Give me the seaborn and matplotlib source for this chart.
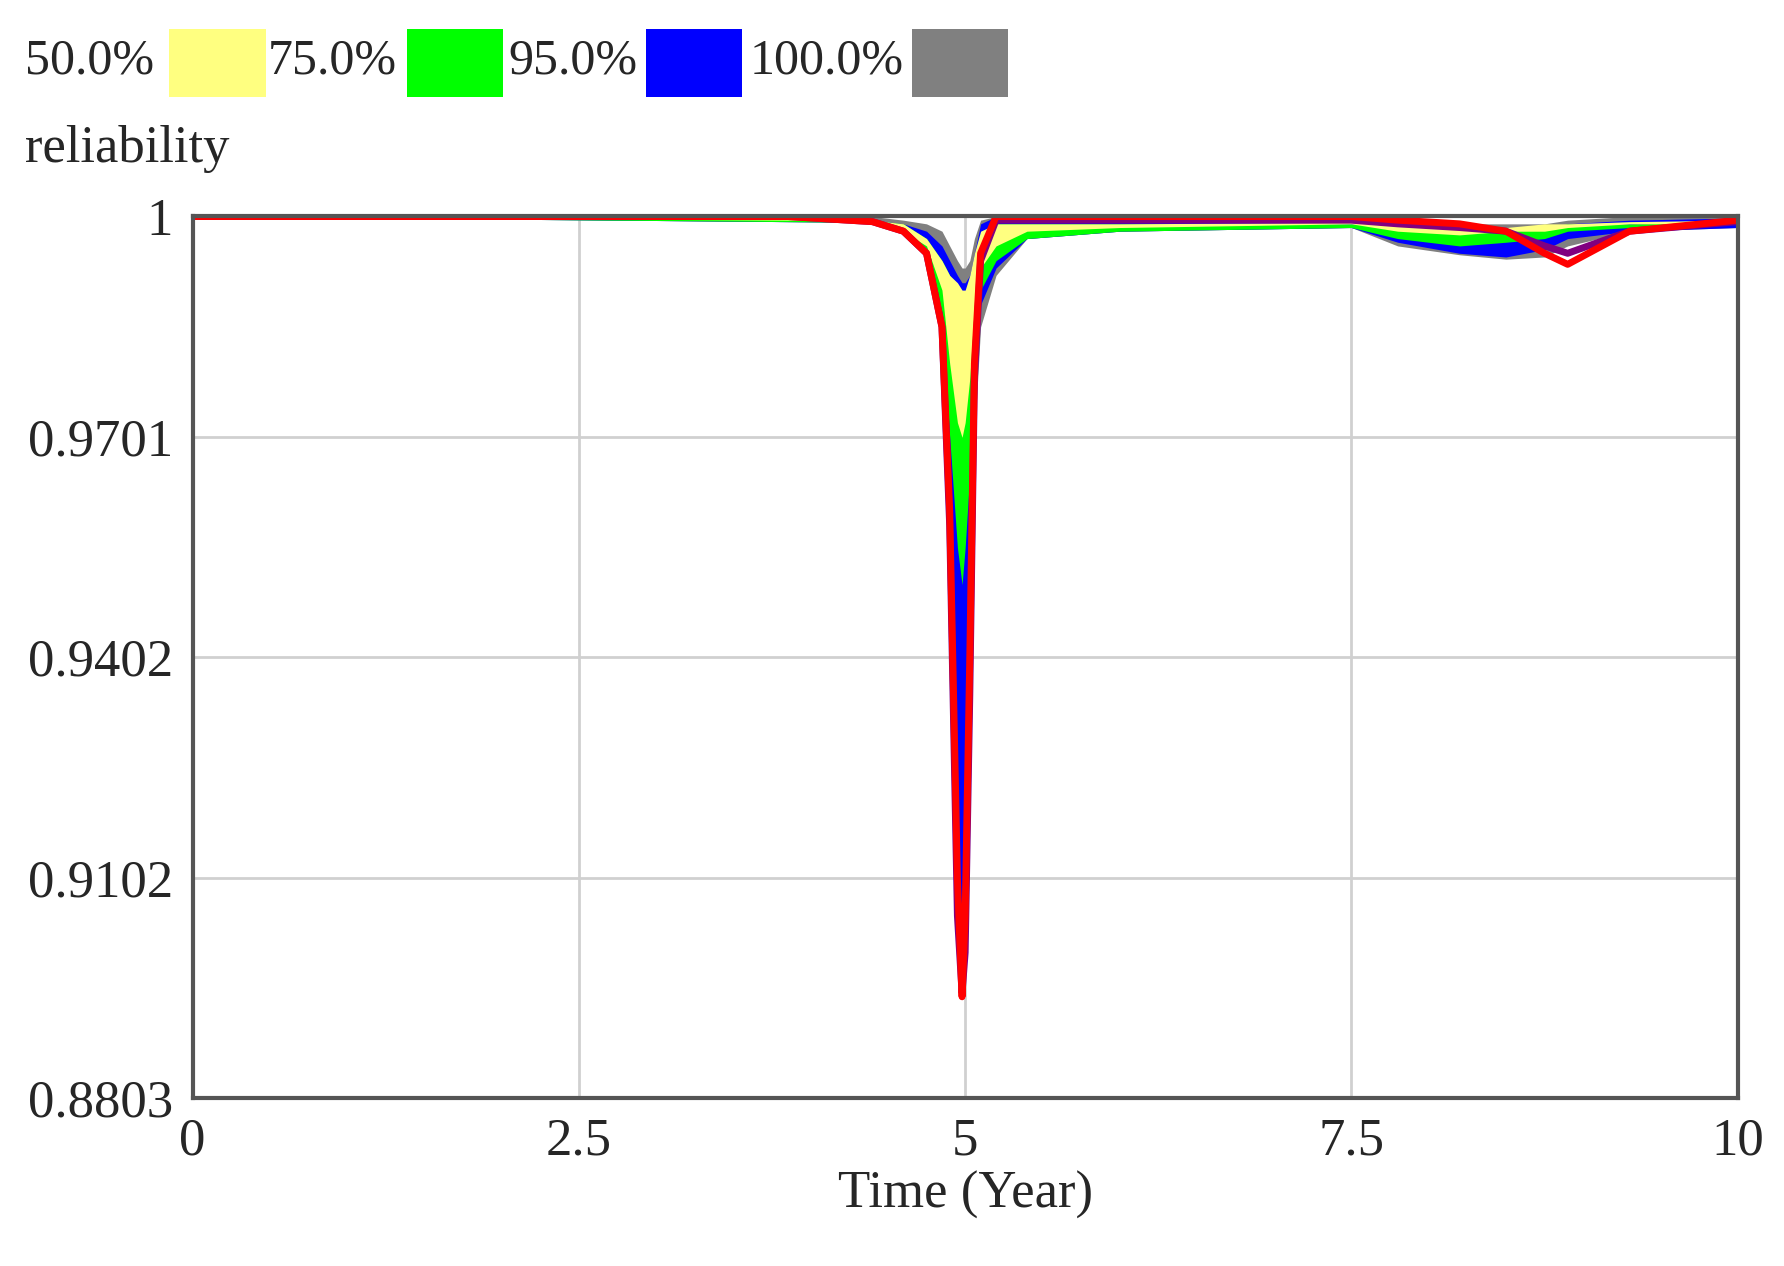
import matplotlib
matplotlib.use("Agg")
import matplotlib.pyplot as plt
import numpy as np
import seaborn as sns
from matplotlib.patches import Rectangle

# time grid (Year) and sensitivity envelopes
t = [0, 3.85, 4.4, 4.6, 4.75, 4.85, 4.9, 4.95, 4.98, 5.0, 5.03, 5.06, 5.1, 5.2, 5.4, 6.0, 7.5, 7.8, 8.2, 8.5, 8.75, 8.9, 9.3, 10]
gray_lo = [1, 0.9993, 0.9992, 0.998, 0.995, 0.985, 0.95, 0.90, 0.8935, 0.90, 0.93, 0.97, 0.985, 0.992, 0.997, 0.998, 0.9985, 0.996, 0.9948, 0.9942, 0.9945, 0.996, 0.998, 0.9985]
gray_hi = [1, 1, 1, 0.9995, 0.999, 0.998, 0.996, 0.994, 0.993, 0.993, 0.994, 0.997, 0.9995, 1, 1, 1, 1, 0.9995, 0.999, 0.999, 0.999, 0.9995, 1, 1]
blue_lo = [1, 0.9993, 0.9992, 0.998, 0.995, 0.986, 0.955, 0.91, 0.895, 0.90, 0.935, 0.975, 0.988, 0.993, 0.997, 0.998, 0.9985, 0.9965, 0.995, 0.9945, 0.9955, 0.997, 0.998, 0.9985]
blue_hi = [1, 1, 0.9995, 0.999, 0.998, 0.996, 0.994, 0.992, 0.991, 0.991, 0.992, 0.995, 0.999, 1, 1, 1, 1, 0.999, 0.998, 0.9975, 0.998, 0.999, 0.9995, 0.9998]
green_lo = [1, 0.9993, 0.9992, 0.998, 0.995, 0.987, 0.97, 0.955, 0.95, 0.955, 0.965, 0.98, 0.99, 0.994, 0.997, 0.998, 0.9985, 0.997, 0.996, 0.9965, 0.997, 0.998, 0.9985, 0.999]
green_hi = [1, 0.9998, 0.9995, 0.999, 0.997, 0.994, 0.992, 0.990, 0.989, 0.9895, 0.991, 0.994, 0.997, 0.999, 0.999, 0.999, 0.999, 0.9985, 0.998, 0.998, 0.9985, 0.999, 0.999, 0.9992]
yellow_lo = [1, 0.9995, 0.9993, 0.998, 0.996, 0.99, 0.98, 0.972, 0.970, 0.972, 0.978, 0.988, 0.993, 0.996, 0.998, 0.9985, 0.999, 0.998, 0.9975, 0.998, 0.998, 0.9985, 0.999, 0.999]
yellow_hi = [1, 0.9998, 0.9995, 0.999, 0.997, 0.994, 0.992, 0.991, 0.99, 0.99, 0.992, 0.995, 0.998, 0.999, 0.999, 0.999, 0.9992, 0.999, 0.9985, 0.9985, 0.999, 0.999, 0.9993, 0.9995]
red = [1, 1, 0.9993, 0.998, 0.995, 0.985, 0.96, 0.91, 0.894, 0.905, 0.94, 0.98, 0.995, 1, 1, 1, 1, 0.9995, 0.999, 0.998, 0.995, 0.9935, 0.998, 0.9995]
purple = [1, 1, 0.9993, 0.998, 0.995, 0.985, 0.958, 0.905, 0.8945, 0.90, 0.935, 0.978, 0.994, 0.9995, 0.9995, 0.9995, 0.9995, 0.999, 0.9985, 0.998, 0.996, 0.995, 0.998, 0.9993]

yticks = [0.8803, 0.9102, 0.9402, 0.9701, 1]
ytick_labels = ["0.8803", "0.9102", "0.9402", "0.9701", "1"]
xticks = [0, 2.5, 5, 7.5, 10]
xtick_labels = ["0", "2.5", "5", "7.5", "10"]
legend_labels = ["50.0%", "75.0%", "95.0%", "100.0%"]
band_colors = ["#ffff80", "#00ff00", "#0000ff", "#808080"]

sns.set_style("whitegrid")
plt.rcParams['font.family'] = ['Liberation Serif', 'DejaVu Serif']

fig = plt.figure(figsize=(17.84, 12.66), dpi=100)
ax = fig.add_axes([0.108, 0.133, 0.866, 0.696])

ax.fill_between(t, gray_lo, gray_hi, color=band_colors[3], lw=0)
ax.fill_between(t, blue_lo, blue_hi, color=band_colors[2], lw=0)
ax.fill_between(t, green_lo, green_hi, color=band_colors[1], lw=0)
ax.fill_between(t, yellow_lo, yellow_hi, color=band_colors[0], lw=0)
sns.lineplot(x=t, y=purple, ax=ax, color="#800080", lw=5)
sns.lineplot(x=t, y=red, ax=ax, color="#ff0000", lw=5)

ax.set_xlim(0, 10)
ax.set_ylim(0.8803, 1)
ax.set_xticks(xticks)
ax.set_xticklabels(xtick_labels)
ax.set_yticks(yticks)
ax.set_yticklabels(ytick_labels)
ax.tick_params(labelsize=38, length=0, pad=14)
ax.grid(True, color="#d0d0d0", lw=2)
for s in ax.spines.values():
    s.set_color("#555555")
    s.set_linewidth(3)
ax.set_xlabel("Time (Year)", fontsize=38, labelpad=4)

fig.text(0.014, 0.882, "reliability", fontsize=38, va="center")

# legend row across the top
text_x = [0.014, 0.150, 0.285, 0.420]
rect_x = [0.095, 0.228, 0.362, 0.511]
for lab, tx, rx, c in zip(legend_labels, text_x, rect_x, band_colors):
    fig.text(tx, 0.952, lab, fontsize=36, va="center")
    fig.patches.append(Rectangle((rx, 0.923), 0.054, 0.054, transform=fig.transFigure,
                                 color=c, lw=0))

fig.savefig("out.png", dpi=100)
